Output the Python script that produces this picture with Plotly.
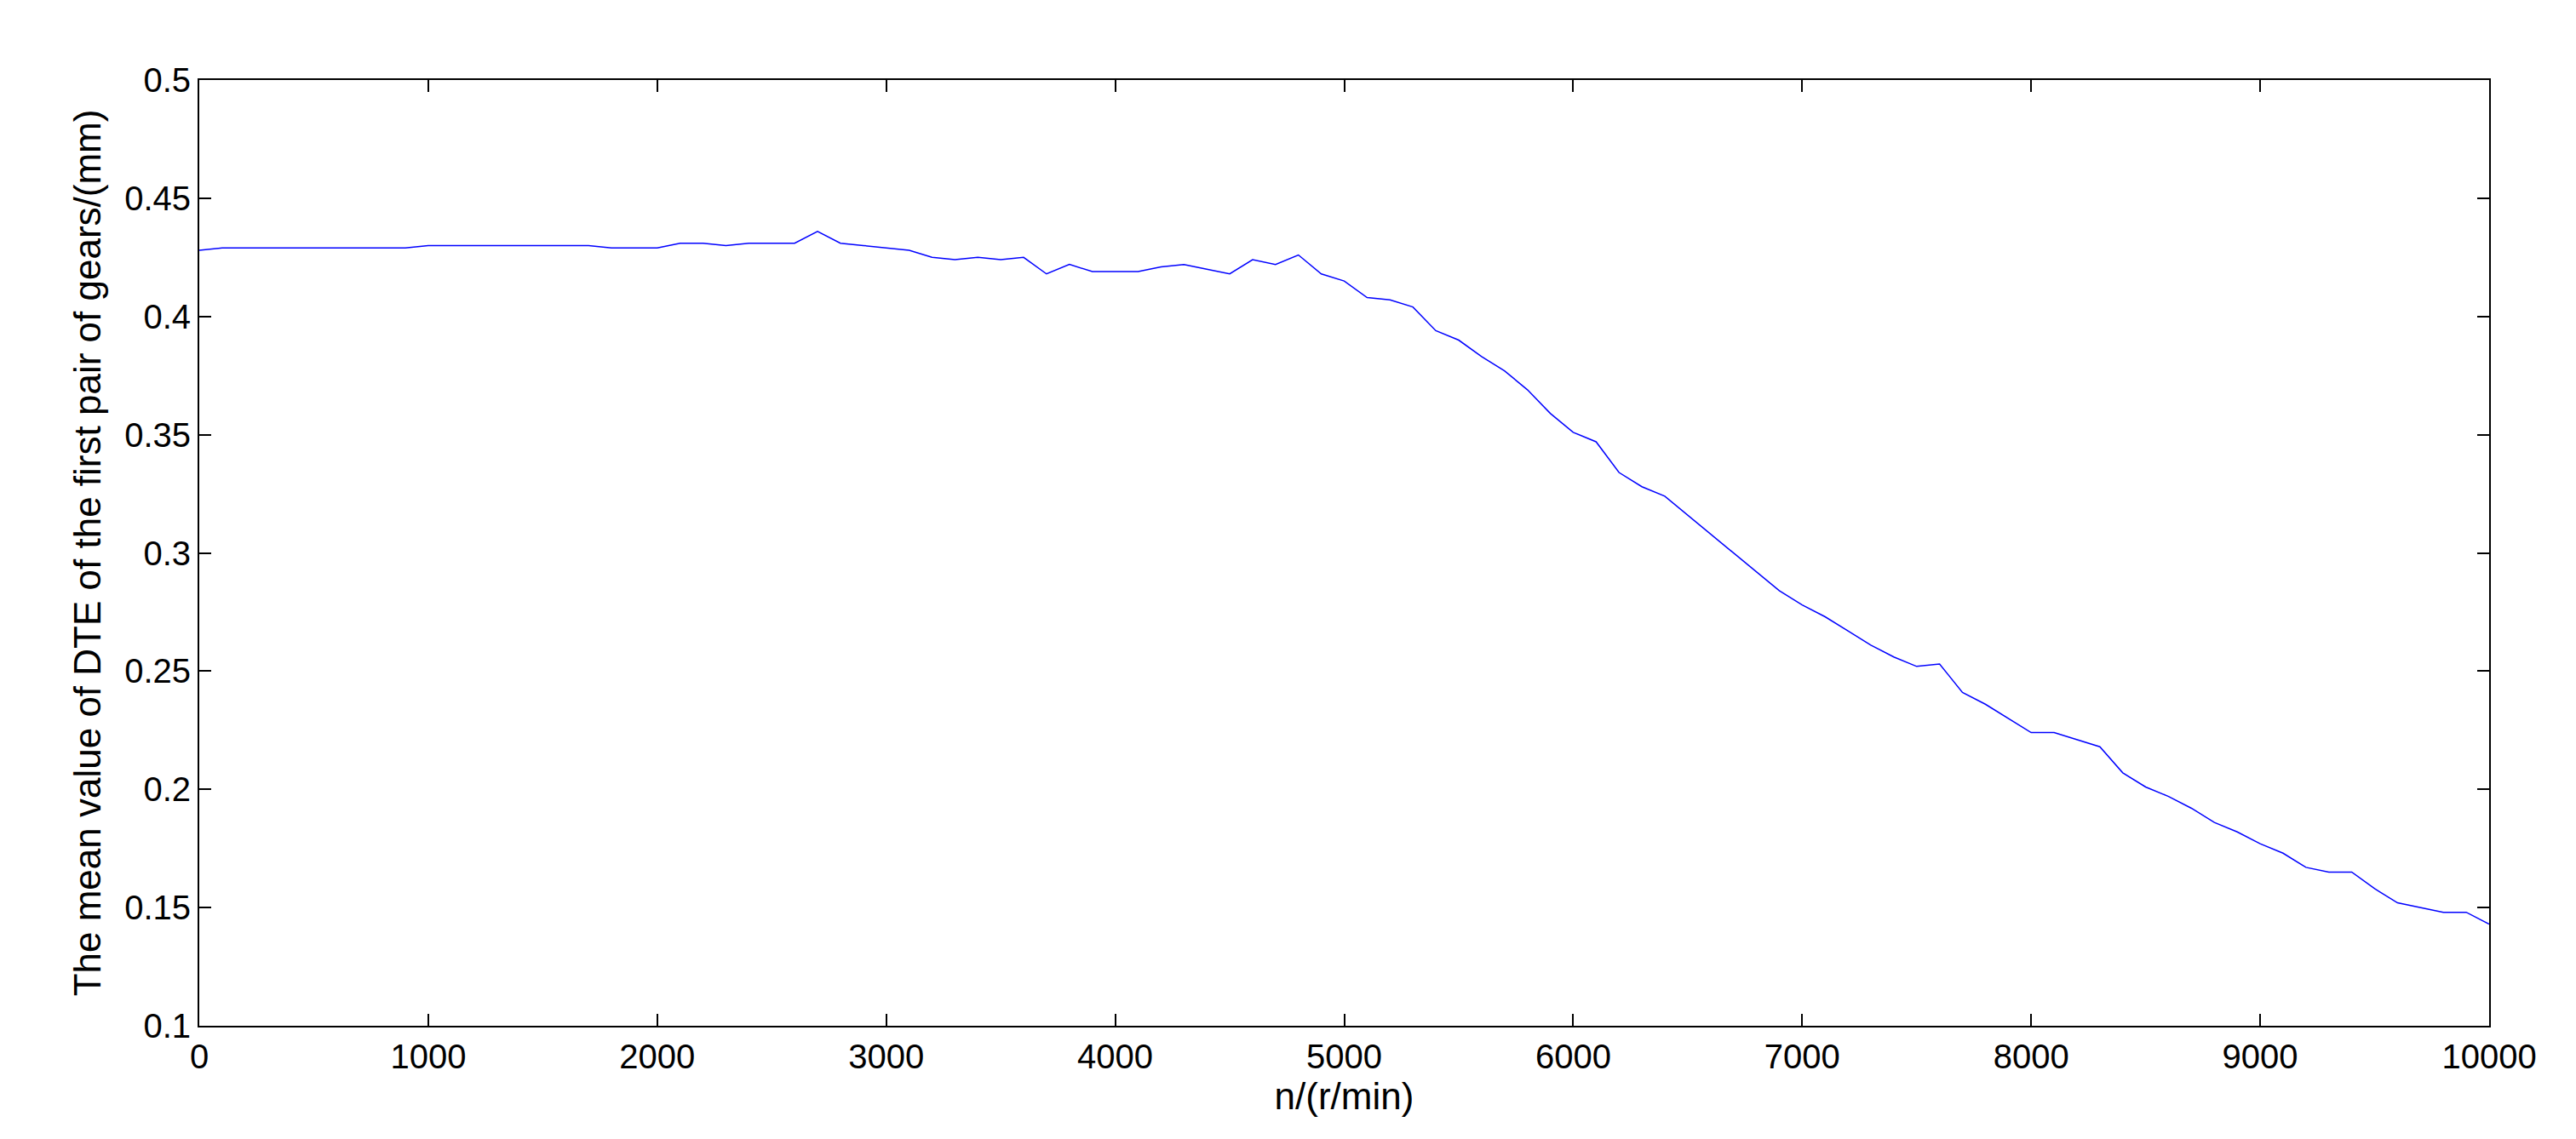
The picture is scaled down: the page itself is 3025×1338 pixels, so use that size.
import plotly.graph_objects as go

speed = list(range(0, 10001, 100))
dte_mean = [
    0.428, 0.429, 0.429, 0.429, 0.429, 0.429, 0.429, 0.429, 0.429, 0.429,
    0.430, 0.430, 0.430, 0.430, 0.430, 0.430, 0.430, 0.430, 0.429, 0.429,
    0.429, 0.431, 0.431, 0.430, 0.431, 0.431, 0.431, 0.436, 0.431, 0.430,
    0.429, 0.428, 0.425, 0.424, 0.425, 0.424, 0.425, 0.418, 0.422, 0.419,
    0.419, 0.419, 0.421, 0.422, 0.420, 0.418, 0.424, 0.422, 0.426, 0.418,
    0.415, 0.408, 0.407, 0.404, 0.394, 0.390, 0.383, 0.377, 0.369, 0.359,
    0.351, 0.347, 0.334, 0.328, 0.324, 0.316, 0.308, 0.300, 0.292, 0.284,
    0.278, 0.273, 0.267, 0.261, 0.256, 0.252, 0.253, 0.241, 0.236, 0.230,
    0.224, 0.224, 0.221, 0.218, 0.207, 0.201, 0.197, 0.192, 0.186, 0.182,
    0.177, 0.173, 0.167, 0.165, 0.165, 0.158, 0.152, 0.150, 0.148, 0.148,
    0.143,
]

fig = go.Figure()
fig.add_trace(go.Scatter(x=speed, y=dte_mean, mode="lines",
                         line=dict(color="#0000ff", width=1.5), showlegend=False))

axis_style = dict(showline=True, linecolor="black", linewidth=2, mirror="ticks",
                  ticks="inside", ticklen=14, tickwidth=2, tickcolor="black",
                  showgrid=False, zeroline=False,
                  tickfont=dict(family="Liberation Sans", size=40, color="black"))
fig.update_xaxes(range=[0, 10000], dtick=1000, tickformat="d", title_text="n/(r/min)",
                 title_font=dict(family="Liberation Sans", size=44, color="black"),
                 title_standoff=8, **axis_style)
fig.update_yaxes(range=[0.1, 0.5], dtick=0.05, tickformat="~g",
                 title_text="The mean value of DTE of the first pair of gears/(mm)",
                 title_font=dict(family="Liberation Sans", size=44, color="black"),
                 title_standoff=14, **axis_style)
fig.update_layout(width=3025, height=1338, plot_bgcolor="white", paper_bgcolor="white",
                  margin=dict(l=226, r=110, t=86, b=141))
fig.write_html("out.html")
